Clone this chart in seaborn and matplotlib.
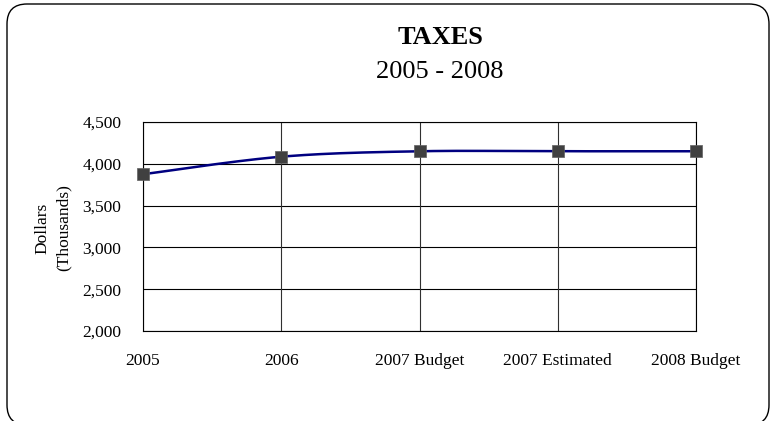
import numpy as np
import pandas as pd
import matplotlib
matplotlib.use("Agg")
import matplotlib.pyplot as plt
from matplotlib.patches import FancyBboxPatch
from matplotlib.transforms import IdentityTransform
from matplotlib.ticker import FuncFormatter
import seaborn as sns

# Tax revenue, thousands of dollars
categories = ["2005", "2006", "2007 Budget", "2007 Estimated", "2008 Budget"]
taxes = [3875, 4085, 4150, 4150, 4150]
y_ticks = [2000, 2500, 3000, 3500, 4000, 4500]

sns.set_theme(style="white")
plt.rcParams["font.family"] = ["Liberation Serif", "DejaVu Serif"]


def smooth_curve(xs, ys, n=50):
    """Cubic Bezier smoothing (Catmull-Rom style control points) through the points."""
    pts = np.column_stack([xs, ys]).astype(float)
    ext = np.vstack([pts[0], pts, pts[-1]])
    t = np.linspace(0, 1, n)[:, None]
    parts = []
    for i in range(len(pts) - 1):
        p0, p1, p2, p3 = ext[i], ext[i + 1], ext[i + 2], ext[i + 3]
        c1 = p1 + (p2 - p0) / 6.0
        c2 = p2 - (p3 - p1) / 6.0
        seg = (1 - t) ** 3 * p1 + 3 * (1 - t) ** 2 * t * c1 + 3 * (1 - t) * t ** 2 * c2 + t ** 3 * p2
        parts.append(seg if i == 0 else seg[1:])
    return np.vstack(parts)


df = pd.DataFrame({"pos": np.arange(len(categories)), "value": taxes, "category": categories})
curve = smooth_curve(df["pos"].values, df["value"].values)
curve_df = pd.DataFrame({"pos": curve[:, 0], "value": curve[:, 1]})

fig = plt.figure(figsize=(7.73, 4.21), dpi=100)
ax = fig.add_axes([143 / 773, 90 / 421, (696 - 143) / 773, (331 - 122) / 421])

sns.lineplot(data=curve_df, x="pos", y="value", ax=ax, sort=False, estimator=None,
             color="#000080", linewidth=1.8, zorder=3)
sns.scatterplot(data=df, x="pos", y="value", ax=ax, marker="s", s=82,
                color="#404040", edgecolor="#606060", linewidth=0.5, zorder=4, clip_on=False)

ax.set_xlim(0, len(categories) - 1)
ax.set_ylim(2000, 4500)
ax.set_xticks(df["pos"])
ax.set_xticklabels(categories)
ax.set_yticks(y_ticks)
ax.yaxis.set_major_formatter(FuncFormatter(lambda v, _: f"{int(v):,}"))

ax.grid(False)
for v in y_ticks:
    ax.axhline(v, color="black", linewidth=0.8, zorder=1)
for p in df["pos"]:
    ax.axvline(p, color="#303030", linewidth=0.8, zorder=1)

for side in ["left", "bottom", "top", "right"]:
    ax.spines[side].set_visible(True)
    ax.spines[side].set_color("black")
    ax.spines[side].set_linewidth(0.8)

ax.tick_params(axis="both", direction="out", length=4.5, width=0.8, color="black",
               labelsize=12.5, labelcolor="black")
ax.tick_params(axis="x", pad=11)
ax.tick_params(axis="y", pad=11)
ax.set_xlabel("")
ax.set_ylabel("")

fig.text(42 / 773, 1 - 228 / 421, "Dollars", rotation=90, ha="center", va="center",
         fontsize=12.5, color="black")
fig.text(64 / 773, 1 - 228 / 421, "(Thousands)", rotation=90, ha="center", va="center",
         fontsize=12.5, color="black")

fig.text(440 / 773, 1 - 37 / 421, "TAXES", ha="center", va="center",
         fontsize=19, fontweight="bold", color="black")
fig.text(440 / 773, 1 - 72 / 421, "2005 - 2008", ha="center", va="center",
         fontsize=19, color="black")

frame = FancyBboxPatch((7, -4), 762, 421, boxstyle="round,pad=0,rounding_size=20",
                       transform=IdentityTransform(), fill=False, edgecolor="black",
                       linewidth=1.0)
fig.patches.append(frame)

fig.savefig("out.png", dpi=100, facecolor="white")
